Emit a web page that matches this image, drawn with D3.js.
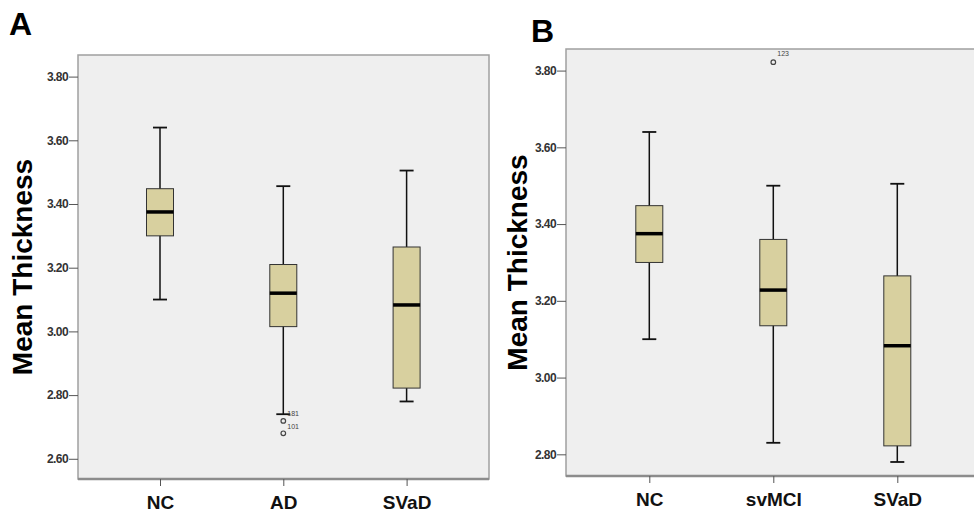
<!DOCTYPE html>
<html>
<head>
<meta charset="utf-8">
<script src="https://cdn.jsdelivr.net/npm/d3@7"></script>
<style>
  body { margin: 0; background: #fff; }
  svg { display: block; font-family: Arial, "Liberation Sans", sans-serif; }
</style>
</head>
<body>
<svg id="chart" width="974" height="512"></svg>
<script>
// panel A
const groupsA = ['NC', 'AD', 'SVaD'];
const whiskerLowA = [3.10, 2.74, 2.78];
const q1A = [3.30, 3.015, 2.822];
const medianA = [3.375, 3.12, 3.083];
const q3A = [3.448, 3.21, 3.265];
const whiskerHighA = [3.64, 3.456, 3.505];
const outliersA = [
    { group: 'AD', value: 2.741, label: '181', hidden: true },
    { group: 'AD', value: 2.719, label: '101' },
    { group: 'AD', value: 2.680, label: '' }
];
const ticksA = [2.6, 2.8, 3.0, 3.2, 3.4, 3.6, 3.8];

// panel B
const groupsB = ['NC', 'svMCI', 'SVaD'];
const whiskerLowB = [3.10, 2.83, 2.78];
const q1B = [3.30, 3.135, 2.822];
const medianB = [3.375, 3.228, 3.083];
const q3B = [3.448, 3.36, 3.265];
const whiskerHighB = [3.64, 3.50, 3.505];
const outliersB = [
    { group: 'svMCI', value: 3.822, label: '123' }
];
const ticksB = [2.8, 3.0, 3.2, 3.4, 3.6, 3.8];

const boxFill = '#d8d09f';
const plotBg = '#efefef';

const svg = d3.select('#chart');

const zip = (groups, lo, a, m, b, hi) =>
    groups.map((g, i) => ({ group: g, lo: lo[i], q1: a[i], med: m[i], q3: b[i], hi: hi[i] }));

// where the case number sits relative to its circle
const labelDy = d => (d.label === '123' ? -6 : d.hidden ? 2 : 8);

const drawPanel = opts => {
    const { left, right, top, bottom, domain, groups, stats, outliers, ticks, letter, letterX, letterY, titleX, xPad } = opts;
    const g = svg.append('g');

    const y = d3.scaleLinear().domain(domain).range([bottom, top]);
    const x = d3.scalePoint().domain(groups).range([left + xPad, left + xPad + 2 * opts.step]);

    // plot area
    g.append('rect')
        .attr('x', left).attr('y', top)
        .attr('width', right - left).attr('height', bottom - top)
        .attr('fill', plotBg)
        .attr('stroke', '#a0a0a0')
        .attr('stroke-width', 1.5);
    g.append('line')
        .attr('x1', left).attr('x2', right)
        .attr('y1', bottom).attr('y2', bottom)
        .attr('stroke', '#8c8c8c').attr('stroke-width', 2.5);

    // y axis
    const yAxis = g.append('g')
        .attr('transform', `translate(${left},0)`)
        .call(d3.axisLeft(y).tickValues(ticks).tickFormat(d3.format('.2f')).tickSize(9).tickPadding(1));
    yAxis.select('.domain').remove();
    yAxis.selectAll('line').attr('stroke', '#555');
    yAxis.selectAll('text')
        .attr('fill', '#333')
        .style('font-size', '12px')
        .style('font-weight', 'bold')
        .style('letter-spacing', '-0.6px');

    // x axis
    const xAxis = g.append('g')
        .attr('transform', `translate(0,${bottom})`)
        .call(d3.axisBottom(x).tickSize(7).tickPadding(10));
    xAxis.select('.domain').remove();
    xAxis.selectAll('line').attr('stroke', '#555');
    xAxis.selectAll('text')
        .attr('fill', '#111')
        .style('font-size', '19px')
        .style('font-weight', 'bold');

    const bw = 27;
    const boxes = g.selectAll('.box').data(stats).join('g').attr('class', 'box');

    boxes.append('line')
        .attr('x1', d => x(d.group)).attr('x2', d => x(d.group))
        .attr('y1', d => y(d.hi)).attr('y2', d => y(d.lo))
        .attr('stroke', '#111').attr('stroke-width', 1.5);
    boxes.append('line')
        .attr('x1', d => x(d.group) - 7).attr('x2', d => x(d.group) + 7)
        .attr('y1', d => y(d.hi)).attr('y2', d => y(d.hi))
        .attr('stroke', '#111').attr('stroke-width', 1.8);
    boxes.append('line')
        .attr('x1', d => x(d.group) - 7).attr('x2', d => x(d.group) + 7)
        .attr('y1', d => y(d.lo)).attr('y2', d => y(d.lo))
        .attr('stroke', '#111').attr('stroke-width', 1.8);
    boxes.append('rect')
        .attr('x', d => x(d.group) - bw / 2)
        .attr('y', d => y(d.q3))
        .attr('width', bw)
        .attr('height', d => y(d.q1) - y(d.q3))
        .attr('fill', boxFill)
        .attr('stroke', '#333').attr('stroke-width', 1);
    boxes.append('line')
        .attr('x1', d => x(d.group) - bw / 2).attr('x2', d => x(d.group) + bw / 2)
        .attr('y1', d => y(d.med)).attr('y2', d => y(d.med))
        .attr('stroke', '#000').attr('stroke-width', 3.5);

    // outliers
    const outs = g.selectAll('.out').data(outliers).join('g').attr('class', 'out');
    outs.filter(d => !d.hidden).append('circle')
        .attr('cx', d => x(d.group)).attr('cy', d => y(d.value))
        .attr('r', 2.3)
        .attr('fill', 'none').attr('stroke', '#444').attr('stroke-width', 1.2);
    outs.filter(d => d.label).append('text')
        .attr('x', d => x(d.group) + 4)
        .attr('y', d => y(d.value) + labelDy(d))
        .attr('fill', '#444')
        .style('font-size', '7px')
        .text(d => d.label);

    // panel letter
    svg.append('text')
        .attr('x', letterX).attr('y', letterY)
        .style('font-size', '32px').style('font-weight', 'bold')
        .text(letter);

    // y title
    svg.append('text')
        .attr('transform', `translate(${titleX},${(top + bottom) / 2}) rotate(-90)`)
        .attr('text-anchor', 'middle')
        .style('font-size', '28px').style('font-weight', 'bold')
        .text('Mean Thickness');
};

drawPanel({
    left: 78, right: 489, top: 55, bottom: 479,
    domain: [2.6 - 20.3 / 320, 3.8 + 21.7 / 320],
    groups: groupsA, xPad: 82, step: 123.3,
    stats: zip(groupsA, whiskerLowA, q1A, medianA, q3A, whiskerHighA),
    outliers: outliersA, ticks: ticksA,
    letter: 'A', letterX: 9, letterY: 35, titleX: 32
});

drawPanel({
    left: 566, right: 976, top: 49, bottom: 476,
    domain: [2.8 - 21.7 / 384, 3.8 + 21.6 / 384],
    groups: groupsB, xPad: 83.3, step: 124,
    stats: zip(groupsB, whiskerLowB, q1B, medianB, q3B, whiskerHighB),
    outliers: outliersB, ticks: ticksB,
    letter: 'B', letterX: 531, letterY: 42, titleX: 527
});
</script>
</body>
</html>
